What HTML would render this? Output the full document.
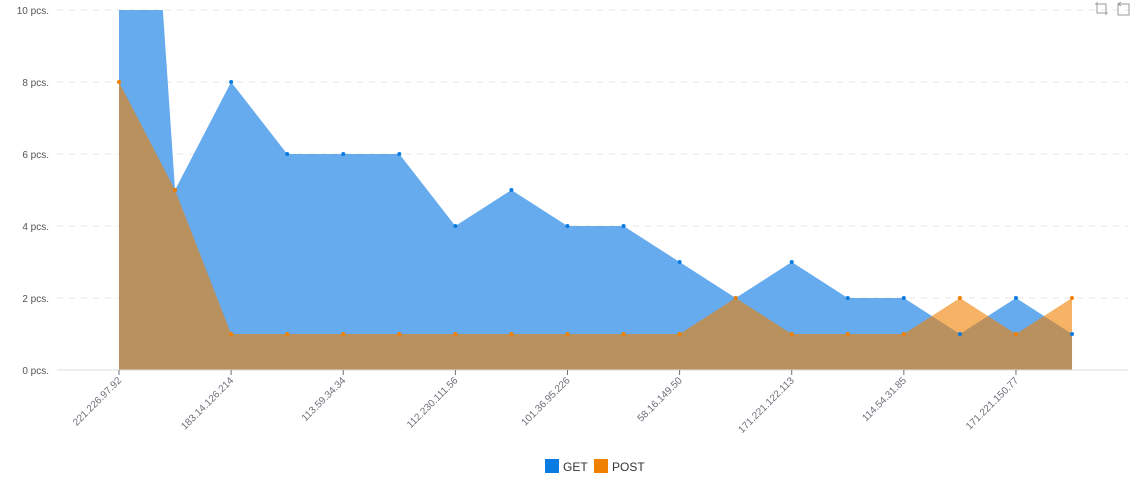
<!DOCTYPE html>
<html><head><meta charset="utf-8">
<style>
html,body{margin:0;padding:0;background:#fff;}
svg{display:block;font-family:"Liberation Sans",sans-serif;}
</style></head>
<body>
<svg id="chart" width="1142" height="496" viewBox="0 0 1142 496" xmlns="http://www.w3.org/2000/svg">
  <g id="grid"></g>
  <g id="areas"></g>
  <g id="xaxis"></g>
  <g id="yaxis"></g>
  <g>
    <rect x="545" y="459" width="14" height="14" fill="#0a7be0"/>
    <text x="563" y="471" font-size="12" fill="#333">GET</text>
    <rect x="594" y="459" width="14" height="14" fill="#f08000"/>
    <text x="612" y="471" font-size="12" fill="#333">POST</text>
  </g>
  <g fill="none" stroke="#999" stroke-width="1">
    <path d="M1097 2 v11 h11 M1095 4 h11 v11"/>
    <path d="M1118 4 h11 v11 h-11 z M1121 2 l-3 2 l3 2"/>
  </g>
</svg>
<script>
const categories = ["221.226.97.92","","183.14.126.214","","113.59.34.34","","112.230.111.56","","101.36.95.226","","58.16.149.50","","171.221.122.113","","114.54.31.85","","171.221.150.77",""];
const getValues = [28,5,8,6,6,6,4,5,4,4,3,2,3,2,2,1,2,1];
const postValues = [8,5,1,1,1,1,1,1,1,1,1,2,1,1,1,2,1,2];
const yTicks = [0,2,4,6,8,10];

const NS="http://www.w3.org/2000/svg";
const x0=119, dx=56.06, yBase=370, yTop=10, yMax=10;
const xs=i=>x0+i*dx;
const ys=v=>yBase-(v/yMax)*(yBase-yTop);
function el(t,a,p){const e=document.createElementNS(NS,t);for(const k in a)e.setAttribute(k,a[k]);p.appendChild(e);return e;}

const grid=document.getElementById('grid'), yaxis=document.getElementById('yaxis');
yTicks.forEach(v=>{
  const l=el('line',{x1:57,x2:1128,y1:ys(v),y2:ys(v),stroke:'#e6e6e6','stroke-dasharray':'6,6'},grid);
  
  
  const t=el('text',{x:49,y:ys(v)+4,'text-anchor':'end','font-size':10,fill:'#555'},yaxis);
  t.textContent=v+' pcs.';
  
  
});

const areas=document.getElementById('areas');
const clip=el('clipPath',{id:'pc'},el('defs',{},areas));
el('rect',{x:0,y:yTop,width:1142,height:yBase-yTop},clip);
const g=el('g',{'clip-path':'url(#pc)'},areas);
function area(vals,fill,name){
  let d='M'+xs(0)+','+yBase;
  vals.forEach((v,i)=>d+=' L'+xs(i)+','+ys(v));
  d+=' L'+xs(vals.length-1)+','+yBase+' Z';
  const p=el('path',{d:d,fill:fill},g);
  
  
}
function dots(vals,color,name){
  vals.forEach((v,i)=>{
    const c=el('circle',{cx:xs(i),cy:ys(v),r:2,fill:color},g);
    
    
  });
}
area(getValues,'#66abee','get-area');
area(postValues,'rgba(240,128,0,0.6)','post-area');
dots(getValues,'#0a7be0','get-point');
dots(postValues,'#f08000','post-point');

const xaxis=document.getElementById('xaxis');
el('line',{x1:57,x2:1128,y1:yBase,y2:yBase,stroke:'#ddd'},xaxis);
categories.forEach((c,i)=>{
  if(!c) return;
  const x=xs(i);
  el('line',{x1:x,x2:x,y1:yBase,y2:yBase+5,stroke:'#6e7079'},xaxis);
  const t=el('text',{x:x+3,y:yBase+11,'text-anchor':'end','font-size':10,fill:'#6e7079',transform:'rotate(-45 '+(x+3)+' '+(yBase+11)+')'},xaxis);
  t.textContent=c;
  
  
});
</script>
</body></html>
